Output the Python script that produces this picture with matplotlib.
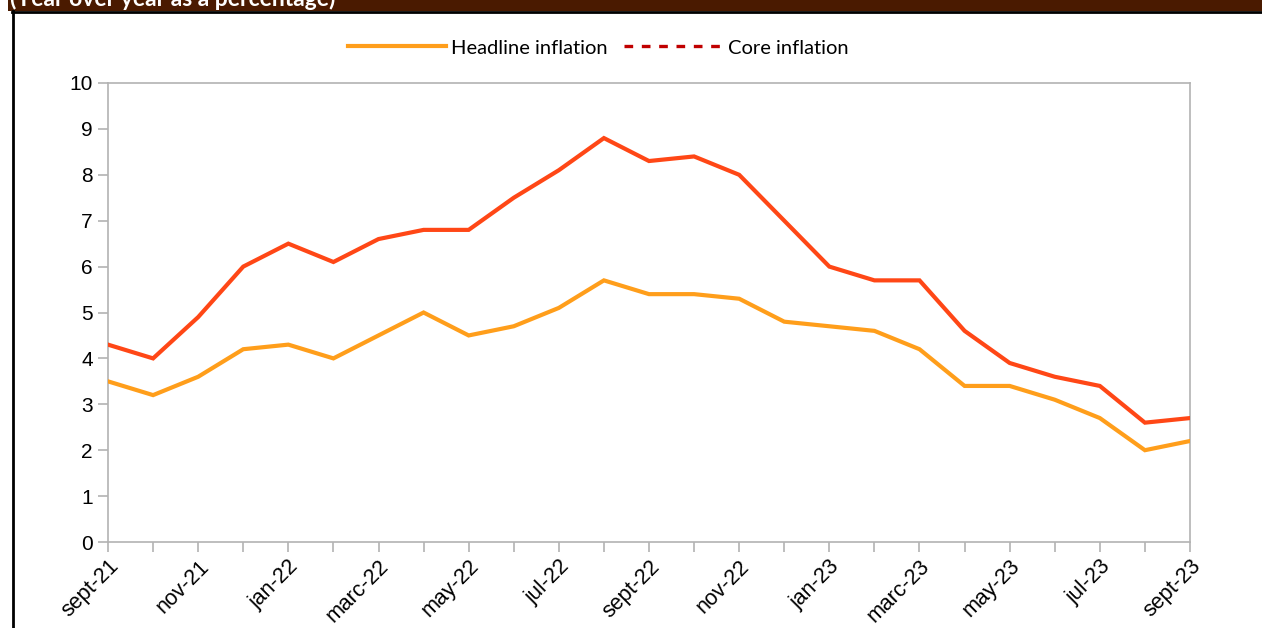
import matplotlib
matplotlib.use("Agg")
import matplotlib.pyplot as plt
from matplotlib.lines import Line2D
from matplotlib.patches import Rectangle

months = ["sept-21", "oct-21", "nov-21", "dec-21", "jan-22", "feb-22", "marc-22", "apr-22",
          "may-22", "jun-22", "jul-22", "aug-22", "sept-22", "oct-22", "nov-22", "dec-22",
          "jan-23", "feb-23", "marc-23", "apr-23", "may-23", "jun-23", "jul-23", "aug-23", "sept-23"]
headline = [3.5, 3.2, 3.6, 4.2, 4.3, 4.0, 4.5, 5.0, 4.5, 4.7, 5.1, 5.7, 5.4,
            5.4, 5.3, 4.8, 4.7, 4.6, 4.2, 3.4, 3.4, 3.1, 2.7, 2.0, 2.2]
core = [4.3, 4.0, 4.9, 6.0, 6.5, 6.1, 6.6, 6.8, 6.8, 7.5, 8.1, 8.8, 8.3,
        8.4, 8.0, 7.0, 6.0, 5.7, 5.7, 4.6, 3.9, 3.6, 3.4, 2.6, 2.7]
title = "(Year over year as a percentage)"
series_names = ["Headline inflation", "Core inflation"]

W, H = 1262, 628
fig = plt.figure(figsize=(W / 100, H / 100), dpi=100)
fig.patch.set_facecolor("white")

# header bar and frame
fig.patches.append(Rectangle((8 / W, 1 - 11 / H), 1, 11 / H, transform=fig.transFigure,
                             facecolor="#4A1A00", edgecolor="none", zorder=0))
fig.add_artist(Line2D([12 / W, 1], [1 - 11.5 / H, 1 - 11.5 / H], transform=fig.transFigure,
                      color="black", lw=2))
fig.add_artist(Line2D([13 / W, 13 / W], [0, 1 - 11 / H], transform=fig.transFigure,
                      color="black", lw=2))
fig.text(10 / W, 1 - 6 / H, title, color="white", fontweight="bold", family="Lato",
         fontsize=16.5, va="baseline", ha="left")

ax = fig.add_axes([108 / W, 1 - 542 / H, (1190 - 108) / W, (542 - 83) / H])
x = list(range(len(months)))
ax.plot(x, headline, color="#FF9E1B", lw=3, solid_joinstyle="miter", zorder=3)
ax.plot(x, core, color="#FF4716", lw=3, solid_joinstyle="miter", zorder=4)

ax.set_xlim(0, len(months) - 1)
ax.set_ylim(0, 10)
ax.set_yticks(range(0, 11))
ax.set_xticks(x)
ax.set_xticklabels([m if i % 2 == 0 else "" for i, m in enumerate(months)],
                   rotation=45, ha="right", rotation_mode="anchor")
ax.tick_params(axis="both", length=7, color="#B3B3B3", width=1.2,
               labelcolor="black", labelfontfamily="Liberation Sans")
ax.tick_params(axis="x", pad=3, labelsize=15.5)
ax.tick_params(axis="y", pad=4, labelsize=15)
for s in ax.spines.values():
    s.set_color("#B3B3B3")
    s.set_linewidth(1.2)

handles = [Line2D([], [], color="#FF9E1B", lw=3),
           Line2D([], [], color="#C00000", lw=2.4, ls=(0, (2.6, 2.6)))]
fig.legend(handles, series_names, loc="center", bbox_to_anchor=(598 / W, 1 - 48 / H),
           ncol=2, frameon=False, handlelength=4.9, handletextpad=0.25, columnspacing=0.8,
           prop={"family": "Lato", "size": 14.5})

fig.savefig("out.png", dpi=100)
